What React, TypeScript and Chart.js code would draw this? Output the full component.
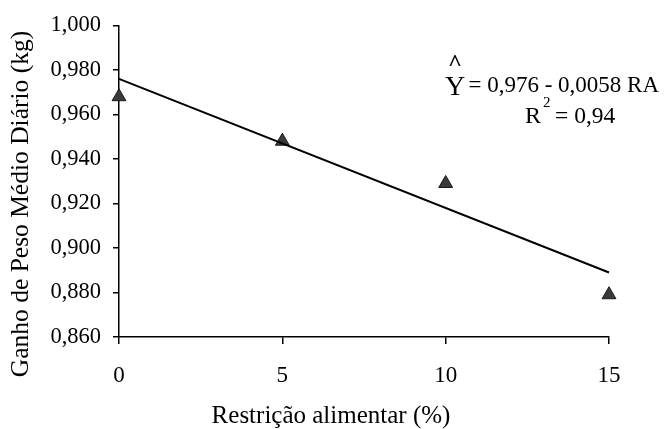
import { useEffect, useRef } from 'react';
import { Chart, registerables } from 'chart.js';

Chart.register(...registerables);

// Data
const restricaoX = [0, 5, 10, 15];
const ganhoPeso = [0.968, 0.948, 0.929, 0.879];
const regressaoX = [0, 15];
const regressaoY = [0.976, 0.889];
const yTickValues = [0.86, 0.88, 0.9, 0.92, 0.94, 0.96, 0.98, 1.0];
const xTickValues = [0, 5, 10, 15];
const yTitle = 'Ganho de Peso Médio Diário (kg)';
const xTitle = 'Restrição alimentar (%)';
const eqText = '= 0,976 - 0,0058 RA';
const r2Text = '= 0,94';

const FONT = '"Liberation Serif", "Times New Roman", serif';

const textPlugin = {
  id: 'customText',
  afterDraw(chart: any) {
    const ctx = chart.ctx as CanvasRenderingContext2D;
    ctx.save();
    ctx.fillStyle = '#000';
    // Y axis title
    ctx.save();
    ctx.translate(28, 204);
    ctx.rotate(-Math.PI / 2);
    ctx.font = `25.5px ${FONT}`;
    ctx.textAlign = 'center';
    ctx.textBaseline = 'alphabetic';
    ctx.fillText(yTitle, 0, 0);
    ctx.restore();
    // X axis title
    ctx.font = `25px ${FONT}`;
    ctx.textAlign = 'center';
    ctx.textBaseline = 'alphabetic';
    ctx.fillText(xTitle, 331, 423);
    // Equation
    ctx.font = `28px ${FONT}`;
    ctx.textAlign = 'left';
    ctx.fillText('Y', 445, 95);
    ctx.font = `bold 24px ${FONT}`;
    ctx.textAlign = 'center';
    ctx.fillText('^', 455, 70);
    ctx.font = `23px ${FONT}`;
    ctx.textAlign = 'right';
    ctx.fillText(eqText, 659, 92);
    // R^2
    ctx.textAlign = 'left';
    ctx.font = `24px ${FONT}`;
    ctx.fillText('R', 525, 123);
    ctx.font = `15px ${FONT}`;
    ctx.fillText('2', 543, 107);
    ctx.font = `23.5px ${FONT}`;
    ctx.fillText(r2Text, 555, 123);
    ctx.restore();
  },
};

export default function App() {
  const ref = useRef<HTMLCanvasElement | null>(null);
  useEffect(() => {
    if (!ref.current) return;
    const chart = new Chart(ref.current, {
      type: 'scatter',
      data: {
        datasets: [
          {
            type: 'line',
            data: regressaoX.map((x, i) => ({ x, y: regressaoY[i] })),
            borderColor: '#000',
            borderWidth: 2,
            pointRadius: 0,
            fill: false,
            clip: false,
          } as any,
          {
            type: 'scatter',
            data: restricaoX.map((x, i) => ({ x, y: ganhoPeso[i] })),
            pointStyle: 'triangle',
            pointRadius: 8,
            backgroundColor: '#3a3a3a',
            borderColor: '#1a1a1a',
            borderWidth: 1,
            clip: false,
          } as any,
        ],
      },
      options: {
        animation: false,
        responsive: false,
        layout: { padding: { top: 24, right: 55, left: 0, bottom: 0 } },
        plugins: { legend: { display: false }, tooltip: { enabled: false } },
        scales: {
          x: {
            type: 'linear',
            min: 0,
            max: 15,
            afterFit: (s: any) => {
              s.height = 92;
            },
            afterBuildTicks: (s: any) => {
              s.ticks = xTickValues.map((v) => ({ value: v }));
            },
            border: { color: '#000', width: 1.5 },
            grid: { drawOnChartArea: false, drawTicks: true, tickLength: 7, color: '#000', lineWidth: 1.5 },
            ticks: {
              font: { family: FONT, size: 23 },
              color: '#000',
              padding: 18,
              callback: (v: any) => String(v),
            },
          },
          y: {
            type: 'linear',
            min: 0.86,
            max: 1.0,
            afterFit: (s: any) => {
              s.width = 119;
            },
            afterBuildTicks: (s: any) => {
              s.ticks = yTickValues.map((v) => ({ value: v }));
            },
            border: { color: '#000', width: 1.5 },
            grid: { drawOnChartArea: false, drawTicks: true, tickLength: 6, color: '#000', lineWidth: 1.5 },
            ticks: {
              font: { family: FONT, size: 22.5 },
              color: '#000',
              padding: 12,
              callback: (v: any) => Number(v).toFixed(3).replace('.', ','),
            },
          },
        },
      },
      plugins: [textPlugin],
    });
    return () => chart.destroy();
  }, []);
  return (
    <div style={{ position: 'absolute', left: 0, top: 0, width: 664, height: 429, background: '#fff' }}>
      <canvas ref={ref} width={664} height={429} style={{ display: 'block' }} />
    </div>
  );
}
